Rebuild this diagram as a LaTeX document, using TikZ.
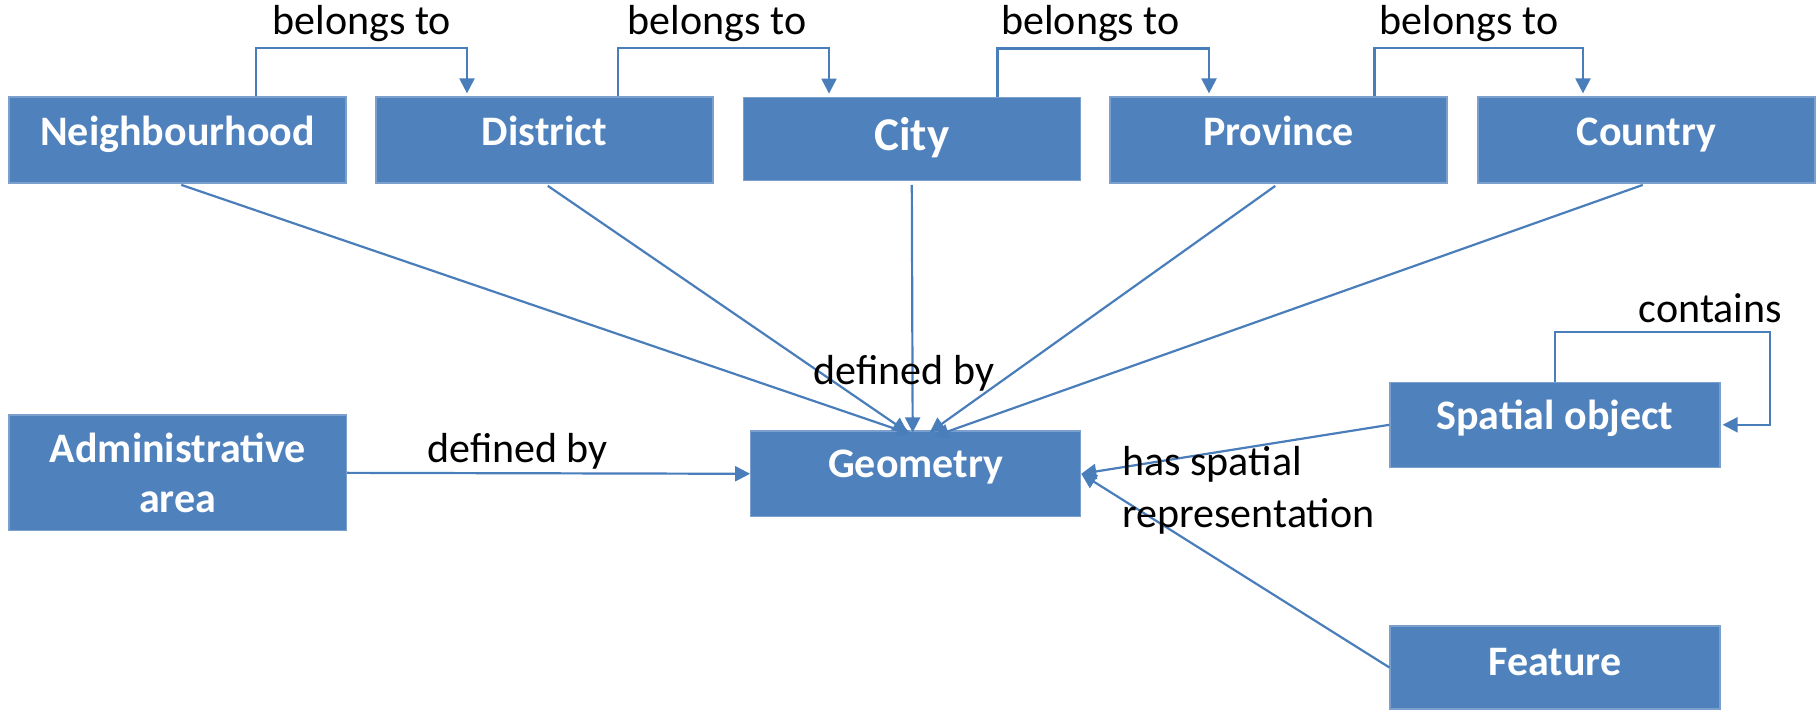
\documentclass[tikz,border=0pt]{standalone}
\usepackage{fontspec}
\setmainfont{Carlito}
\usetikzlibrary{arrows.meta,calc}
\definecolor{boxblue}{HTML}{4F81BD}
\definecolor{lineblue}{HTML}{4A7EBB}
\begin{document}
\begin{tikzpicture}[x=0.5pt,y=-0.5pt,
  box/.style={rectangle, fill=boxblue, draw=boxblue!75!white, line width=0.6pt,
    text=white, font=\bfseries\fontsize{21}{25}\selectfont,
    minimum width=168.5pt, minimum height=43pt, inner sep=0pt},
  conn/.style={draw=lineblue, line width=1.1pt, -{Triangle[width=7.5pt,length=7.5pt]}},
  lbl/.style={font=\fontsize{21}{26}\selectfont, inner sep=0pt, text=black}]
\useasboundingbox (0,0) rectangle (1817,710);
% boxes
\node[box, text height=12pt, text depth=6pt] (nb) at (177.5,140) {Neighbourhood};
\node[box, text height=12pt, text depth=6pt] (di) at (544.5,140) {District};
\node[box, font=\bfseries\fontsize{23.5}{28}\selectfont, minimum height=41.5pt,
      text height=15pt, text depth=3pt] (ci) at (911.8,138.7) {City};
\node[box, text height=12pt, text depth=6pt] (pr) at (1278.5,140) {Province};
\node[box, text height=12pt, text depth=6pt] (co) at (1646.5,140) {Country};
\node[box, align=center, minimum width=168.75pt, minimum height=57.85pt] (ad) at (177.75,472.85) {Administrative\\area};
\node[box, minimum width=165pt, minimum height=42.75pt, text height=11pt, text depth=7pt] (geo) at (915.7,473.8) {Geometry};
\node[box, minimum width=165pt, minimum height=42.5pt, text height=11.5pt, text depth=7pt] (sp) at (1555,424.8) {Spatial object};
\node[box, minimum width=165pt, minimum height=41.5pt, text height=13.5pt, text depth=5pt] (fe) at (1555,667.5) {Feature};
% belongs to
\draw[conn, shorten >=1.5pt] ([xshift=39.25pt]nb.north) -- ++(0,-48) -| ([xshift=-38.75pt]di.north);
\draw[conn, shorten >=1.5pt] ([xshift=36.75pt]di.north) -- ++(0,-48) -| ([xshift=-41.4pt]ci.north);
\draw[conn, shorten >=1.5pt] ([xshift=42.85pt]ci.north) -- ++(0,-48) -| ([xshift=-34.75pt]pr.north);
\draw[conn, shorten >=1.5pt] ([xshift=48pt]pr.north) -- ++(0,-48) -| ([xshift=-31.75pt]co.north);
\node[lbl, anchor=base] (b1) at (362,35) {belongs to};
\node[lbl, anchor=base] (b2) at (717,35) {belongs to};
\node[lbl, anchor=base] (b3) at (1090.5,35) {belongs to};
\node[lbl, anchor=base] (b4) at (1469,35) {belongs to};
% defined by (top)
\draw[conn, shorten <=2pt] (nb.south) -- ($(geo.north)+(-4,4)$);
\draw[conn, shorten <=2pt] (di.south) -- ($(geo.north)+(-8,2)$);
\draw[conn, shorten <=2pt] (ci.south) -- ($(geo.north)+(-3,2)$);
\draw[conn, shorten <=2pt] (pr.south) -- ($(geo.north)+(14,2)$);
\draw[conn, shorten <=2pt] (co.south) -- ($(geo.north)+(18,6)$);
\node[lbl, anchor=base] (d1) at (904,385) {defined by};
% administrative area
\draw[conn] (ad.east) -- (geo.west);
\node[lbl, anchor=base] (d2) at (517.5,463) {defined by};
% spatial object / feature
\draw[conn] (sp.west) -- (geo.east);
\draw[conn] (fe.west) -- (geo.east);
\node[lbl, anchor=west, align=left] (hs) at (1122,490.5) {has spatial\\representation};
\draw[conn, shorten >=1pt] (sp.north) -- ++(0,-50) -| ($(sp.east)+(49,0)$) -- (sp.east);
\node[lbl, anchor=base] (ct) at (1710.5,323) {contains};
\end{tikzpicture}
\end{document}
